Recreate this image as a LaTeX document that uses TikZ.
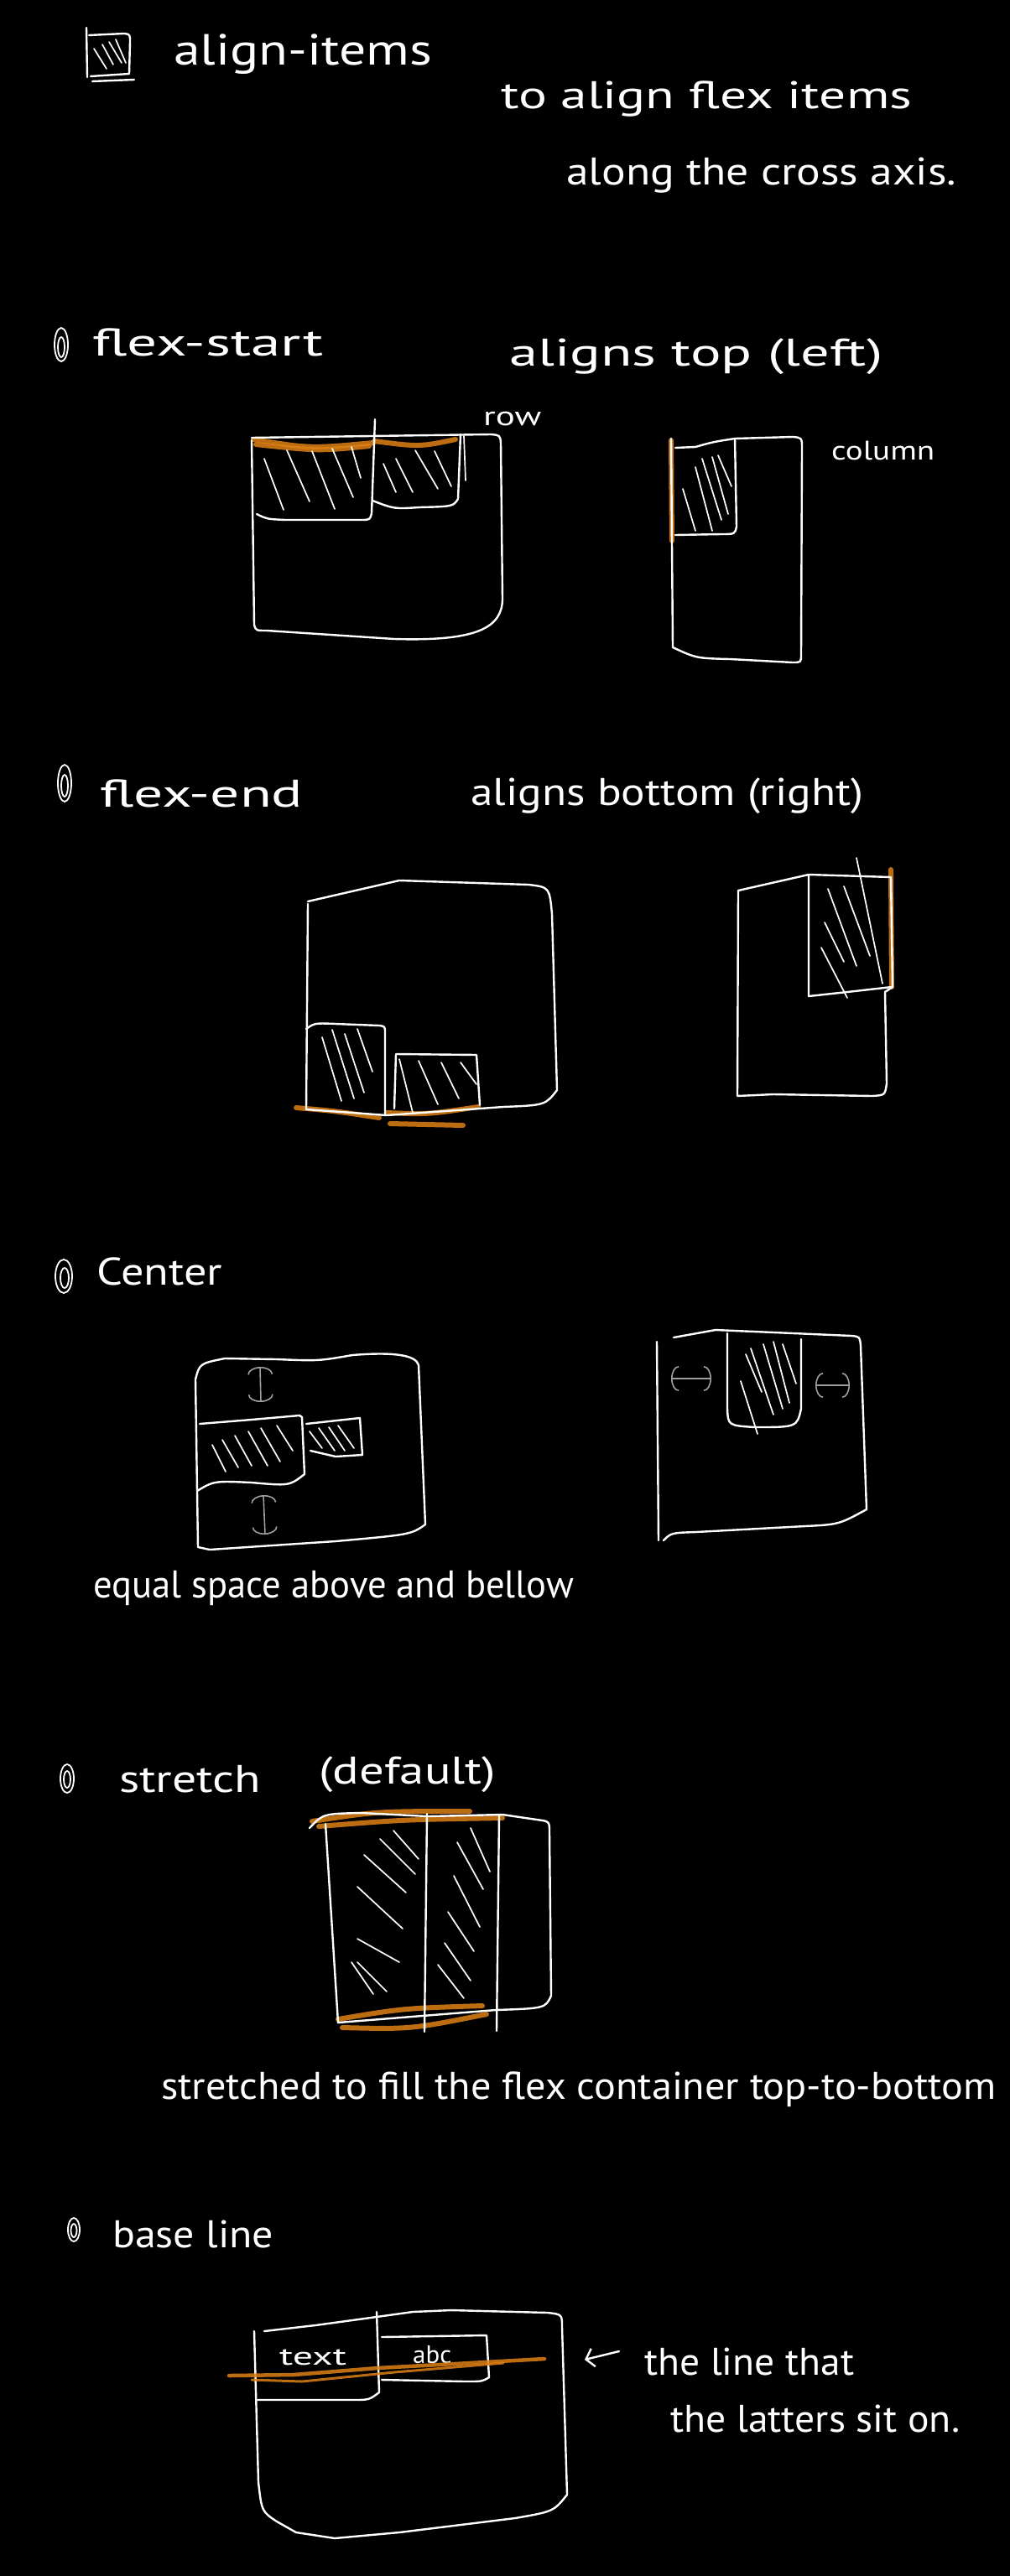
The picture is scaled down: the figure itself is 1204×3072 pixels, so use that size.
\documentclass[tikz,border=0pt]{standalone}
\usepackage{fontspec}
\setmainfont{PT Sans}
\usetikzlibrary{arrows.meta}
\definecolor{hl}{RGB}{222,128,20}
\newcommand{\fitw}[2]{\resizebox{#1pt}{\height}{#2}}
\tikzset{
  chalk/.style={draw=white, line width=2.4pt, line cap=round, line join=round},
  hatch/.style={draw=white, line width=1.7pt, line cap=round},
  hilite/.style={draw=hl, line width=6pt, line cap=round, opacity=0.85},
  hand/.style={text=white, inner sep=0pt, anchor=base west, font=\fontsize{46}{52}\selectfont},
  note/.style={hand, font=\fontsize{32}{38}\selectfont},
  ghost/.style={draw=gray!75, line width=1.6pt,
    {Arc Barb[length=9pt,width=30pt]}-{Arc Barb[length=9pt,width=30pt]}},
  dot/.style={draw=white, line width=1.8pt}
}
\begin{document}
\begin{tikzpicture}[x=1pt, y=-1pt]
  \useasboundingbox (0,0) rectangle (1204,3072);
  \fill[black] (0,0) rectangle (1204,3072);

  % Titulo
  \draw[chalk] (103,33) -- (104,92);
  \draw[chalk] (106,42) -- (148,40) .. controls (155,41) .. (155,50) -- (154,88) -- (108,91);
  \draw[chalk] (110,97) -- (160,95);
  \draw[hatch] (112,58) -- (127,82) (122,53) -- (135,77) (130,50) -- (145,75) (138,47) -- (150,75);
  \node[hand, font=\fontsize{52}{58}\selectfont] (title) at (207,78) {\fitw{308}{align-items}};
  \node[hand] (desc1) at (597,130) {\fitw{490}{to align flex items}};
  \node[hand] (desc2) at (675,220) {\fitw{465}{along the cross axis.}};

  % flex-start
  \draw[dot] (73,411) ellipse [x radius=8, y radius=20];
  \draw[dot] (73,414) ellipse [x radius=4, y radius=12];
  \node[hand] (fstart) at (110,424) {\fitw{275}{flex-start}};
  \node[hand] (fstartnote) at (607,436) {\fitw{445}{aligns top (left)}};
  \node[note] (row) at (576,507) {\fitw{69}{row}};
  \node[note] (column) at (991,548) {\fitw{123}{column}};
  % row
  \draw[hilite] (302,524) .. controls (370,535) .. (445,528);
  \draw[hilite] (305,530) .. controls (380,538) .. (440,532);
  \draw[hilite] (446,526) .. controls (500,533) .. (543,524);
  \draw[chalk] (300,525) -- (303,745) .. controls (305,752) .. (318,752) -- (470,762)
    .. controls (570,765) and (598,748) .. (599,715) -- (597,528)
    .. controls (596,519) .. (585,518) -- (300,522);
  \draw[chalk] (447,500) -- (443,612) .. controls (441,620) .. (430,620) -- (340,620)
    .. controls (318,619) .. (306,613);
  \draw[chalk] (444,597) .. controls (470,607) .. (500,605) .. controls (540,604) .. (546,595) -- (549,518);
  \draw[hatch] (315,547) -- (338,608) (342,537) -- (369,598) (372,538) -- (399,607)
    (396,535) -- (421,593) (419,533) -- (430,570);
  \draw[hatch] (457,553) -- (472,587) (472,547) -- (492,587) (495,537) -- (522,583)
    (518,538) -- (538,580) (553,520) -- (555,573);
  % column
  \draw[hilite] (800,525) -- (801,645);
  \draw[chalk] (800,523) -- (802,772) .. controls (830,785) .. (870,786) -- (945,790)
    .. controls (955,790) .. (955,780) -- (956,535) .. controls (956,522) .. (945,521)
    -- (876,523) .. controls (850,527) .. (829,533) -- (805,534);
  \draw[chalk] (876,523) -- (878,628) .. controls (876,637) .. (860,637) -- (805,638);
  \draw[hatch] (829,557) -- (849,633) (837,547) -- (860,620) (849,545) -- (868,613)
    (856,543) -- (872,580) (814,583) -- (829,633);

  % flex-end
  \draw[dot] (77,934) ellipse [x radius=8, y radius=22];
  \draw[dot] (77,937) ellipse [x radius=4, y radius=13];
  \node[hand] (fend) at (119,962) {\fitw{242}{flex-end}};
  \node[hand] (fendnote) at (561,960) {\fitw{468}{aligns bottom (right)}};
  % row
  \draw[hilite] (353,1321) .. controls (400,1325) .. (452,1333);
  \draw[hilite] (461,1327) .. controls (510,1329) .. (570,1320);
  \draw[hilite] (465,1340) -- (552,1342);
  \draw[chalk] (367,1075) -- (476,1050) -- (630,1055) .. controls (655,1058) .. (658,1090)
    -- (664,1300) .. controls (650,1318) .. (600,1320) -- (461,1330) -- (365,1323) -- (367,1078);
  \draw[chalk] (365,1227) .. controls (375,1220) .. (400,1221) -- (452,1223)
    .. controls (459,1224) .. (459,1232) -- (459,1330);
  \draw[chalk] (470,1322) -- (472,1257) -- (568,1258) -- (572,1318);
  \draw[hatch] (384,1237) -- (407,1313) (396,1228) -- (422,1310) (411,1233) -- (434,1303)
    (426,1227) -- (444,1278);
  \draw[hatch] (476,1263) -- (492,1327) (499,1265) -- (522,1317) (526,1267) -- (547,1310)
    (549,1267) -- (568,1293);
  % column
  \draw[hilite] (1062,1037) -- (1063,1177);
  \draw[chalk] (879,1307) -- (880,1062) -- (964,1043) -- (1062,1046) -- (1064,1177)
    -- (1055,1183) -- (1057,1292) .. controls (1055,1306) .. (1040,1307) -- (922,1305) -- (879,1307);
  \draw[chalk] (964,1043) -- (964,1188) -- (1010,1183) -- (1063,1177);
  \draw[hatch] (987,1060) -- (1021,1152) (1006,1057) -- (1037,1140) (983,1100) -- (1006,1147)
    (979,1130) -- (1010,1190) (1021,1023) -- (1052,1173);

  % center
  \draw[dot] (76,1522) ellipse [x radius=10, y radius=20];
  \draw[dot] (77,1524) ellipse [x radius=5, y radius=12];
  \node[hand] (center) at (115,1532) {\fitw{150}{Center}};
  \node[hand] (centernote) at (111,1905) {\fitw{573}{equal space above and bellow}};
  % row
  \draw[chalk] (233,1645) .. controls (238,1626) .. (268,1620) -- (330,1621)
    .. controls (380,1623) .. (420,1616) .. controls (470,1612) and (496,1616) .. (499,1628)
    -- (507,1818) .. controls (490,1830) .. (400,1838) -- (250,1848) -- (236,1845) -- (233,1645);
  \draw[chalk] (238,1698) -- (300,1693) -- (357,1688) -- (360,1690) -- (363,1758)
    .. controls (345,1772) .. (300,1768) .. controls (255,1766) .. (235,1778);
  \draw[chalk] (365,1698) -- (429,1691) -- (432,1735) -- (400,1737) -- (370,1730);
  \draw[hatch] (253,1723) -- (269,1755) (265,1717) -- (284,1750) (280,1712) -- (300,1748)
    (296,1707) -- (319,1748) (311,1703) -- (334,1743) (330,1700) -- (349,1730);
  \draw[hatch] (369,1707) -- (384,1727) (380,1703) -- (399,1730) (392,1702) -- (411,1730)
    (403,1700) -- (422,1727);
  \draw[ghost] (310,1630) -- (311,1672);
  \draw[ghost] (314,1783) -- (316,1830);
  % column
  \draw[chalk] (783,1600) -- (785,1837);
  \draw[chalk] (803,1595) -- (853,1586) -- (1015,1593) .. controls (1025,1594) .. (1026,1605)
    -- (1033,1800) .. controls (1000,1818) .. (960,1820) -- (830,1827) .. controls (800,1828) .. (791,1837);
  \draw[chalk] (867,1590) -- (867,1680) .. controls (868,1700) .. (900,1702)
    .. controls (950,1702) .. (955,1680) -- (955,1597);
  \draw[hatch] (895,1608) -- (922,1687) (910,1603) -- (933,1680) (922,1600) -- (941,1673)
    (933,1603) -- (949,1650) (883,1647) -- (903,1710) (889,1615) -- (908,1660);
  \draw[ghost] (800,1644) -- (848,1644);
  \draw[ghost] (972,1652) -- (1013,1652);

  % stretch
  \draw[dot] (80,2121) ellipse [x radius=8, y radius=17];
  \draw[dot] (80,2122) ellipse [x radius=4, y radius=10];
  \node[hand] (stretch) at (142,2137) {\fitw{169}{stretch}};
  \node[hand] (default) at (380,2127) {\fitw{211}{(default)}};
  \node[hand] (stretchnote) at (192,2503) {\fitw{995}{stretched to fill the flex container top-to-bottom}};
  \draw[hilite] (372,2172) .. controls (450,2160) .. (560,2160);
  \draw[hilite] (380,2178) .. controls (480,2170) .. (599,2168);
  \draw[hilite] (403,2408) .. controls (480,2395) .. (575,2392);
  \draw[hilite] (408,2418) .. controls (490,2420) .. (580,2402);
  \draw[chalk] (369,2180) .. controls (385,2163) .. (430,2162) -- (510,2166) -- (599,2164)
    -- (640,2170) .. controls (655,2172) .. (655,2185) -- (657,2380)
    .. controls (650,2395) .. (591,2397) -- (403,2412) -- (388,2175);
  \draw[chalk] (509,2163) -- (506,2423);
  \draw[chalk] (595,2165) -- (592,2422);
  \draw[hatch] (453,2193) -- (495,2235) (469,2183) -- (499,2217) (434,2212) -- (484,2257)
    (426,2250) -- (480,2300) (426,2312) -- (476,2340) (419,2340) -- (445,2378)
    (426,2340) -- (461,2375);
  \draw[hatch] (561,2180) -- (584,2232) (545,2197) -- (576,2253) (541,2237) -- (572,2298)
    (534,2280) -- (565,2327) (530,2317) -- (561,2362) (522,2343) -- (553,2383);

  % baseline
  \draw[dot] (88,2659) ellipse [x radius=7, y radius=14];
  \draw[dot] (88,2660) ellipse [x radius=3.5, y radius=8];
  \node[hand] (base) at (134,2680) {\fitw{192}{base line}};
  \draw[chalk] (315,2780) -- (376,2773) -- (449,2763) -- (492,2757) -- (538,2755) -- (653,2758)
    .. controls (670,2760) .. (670,2775) -- (676,2975) .. controls (660,2995) .. (614,3003)
    -- (476,3020) -- (399,3027) -- (353,3020) -- (330,3007) .. controls (312,2995) .. (308,2960)
    -- (303,2780);
  \draw[chalk] (449,2757) -- (452,2853) .. controls (440,2862) .. (420,2862) -- (307,2862);
  \draw[chalk] (455,2787) -- (580,2785) -- (583,2835) .. controls (575,2840) .. (555,2840) -- (455,2838);
  \node[note, font=\fontsize{30}{34}\selectfont] (txt) at (333,2820) {\fitw{80}{text}};
  \node[note, font=\fontsize{30}{34}\selectfont] (abc) at (492,2818) {\fitw{46}{abc}};
  \draw[hilite, line width=4.5pt] (273,2833) -- (350,2832) -- (450,2824) -- (560,2818) -- (649,2813);
  \draw[hilite, line width=3pt] (300,2838) -- (360,2840) -- (470,2829) -- (600,2818);
  \coordinate (ptr) at (697,2814);
  \node[hand] (basenote1) at (768,2832) {\fitw{250}{the line that}};
  \node[hand] (basenote2) at (799,2900) {\fitw{345}{the latters sit on.}};
  \draw[chalk, -{Straight Barb[length=9pt,width=22pt]}] (basenote1.west) ++(-30,-12) -- (ptr);
\end{tikzpicture}
\end{document}
